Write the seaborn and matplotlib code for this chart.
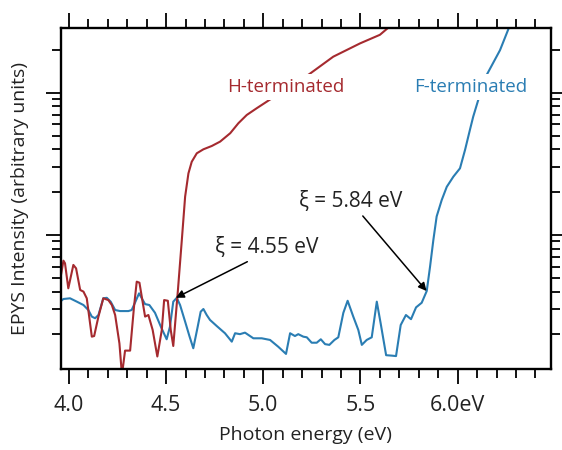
import matplotlib
matplotlib.use("Agg")
import matplotlib.pyplot as plt
import seaborn as sns
import pandas as pd
from matplotlib.ticker import MultipleLocator, LogLocator, NullFormatter, FixedLocator, FixedFormatter

# ---- data ----
h_energy = [3.955, 3.972, 3.980, 3.997, 4.023, 4.037, 4.058, 4.075, 4.092, 4.118, 4.130, 4.152,
            4.177, 4.203, 4.221, 4.238, 4.260, 4.273, 4.289, 4.315, 4.335, 4.349, 4.363, 4.375,
            4.392, 4.409, 4.431, 4.455, 4.478, 4.490, 4.509, 4.524, 4.537, 4.561, 4.581, 4.598,
            4.615, 4.632, 4.658, 4.692, 4.735, 4.778, 4.830, 4.872, 4.915, 4.966, 5.026, 5.128,
            5.237, 5.360, 5.498, 5.600, 5.643, 5.662]
h_intensity = [0.483, 0.660, 0.633, 0.422, 0.616, 0.583, 0.411, 0.400, 0.359, 0.193, 0.195, 0.267,
               0.359, 0.349, 0.322, 0.274, 0.173, 0.104, 0.154, 0.154, 0.313, 0.470, 0.462, 0.368,
               0.267, 0.274, 0.215, 0.140, 0.215, 0.349, 0.345, 0.215, 0.166, 0.411, 0.922, 1.86,
               2.71, 3.27, 3.75, 4.00, 4.22, 4.53, 5.19, 6.10, 6.97, 7.77, 8.79, 10.8,
               13.5, 17.9, 22.2, 25.5, 28.6, 32.4]

f_energy = [3.955, 3.972, 4.006, 4.041, 4.075, 4.100, 4.118, 4.135, 4.152, 4.177, 4.195, 4.215,
            4.238, 4.263, 4.306, 4.323, 4.340, 4.361, 4.375, 4.392, 4.414, 4.443, 4.473, 4.503,
            4.520, 4.537, 4.555, 4.572, 4.598, 4.620, 4.640, 4.661, 4.678, 4.692, 4.709, 4.726,
            4.761, 4.803, 4.838, 4.855, 4.880, 4.906, 4.949, 4.992, 5.035, 5.077, 5.117, 5.138,
            5.163, 5.180, 5.206, 5.224, 5.249, 5.275, 5.296, 5.318, 5.340, 5.366, 5.386, 5.412,
            5.434, 5.463, 5.489, 5.507, 5.532, 5.558, 5.584, 5.604, 5.632, 5.661, 5.683, 5.707,
            5.734, 5.760, 5.786, 5.815, 5.841, 5.858, 5.875, 5.892, 5.918, 5.944, 5.978, 6.012,
            6.038, 6.063, 6.080, 6.106, 6.149, 6.218, 6.266, 6.280]
f_intensity = [0.340, 0.355, 0.359, 0.340, 0.322, 0.297, 0.267, 0.260, 0.274, 0.359, 0.362, 0.340,
               0.297, 0.292, 0.292, 0.297, 0.334, 0.389, 0.359, 0.327, 0.322, 0.284, 0.227, 0.185,
               0.227, 0.340, 0.362, 0.322, 0.246, 0.195, 0.160, 0.221, 0.289, 0.302, 0.274, 0.253,
               0.229, 0.204, 0.178, 0.204, 0.201, 0.206, 0.188, 0.188, 0.183, 0.164, 0.146, 0.204,
               0.195, 0.201, 0.193, 0.191, 0.175, 0.175, 0.185, 0.171, 0.169, 0.183, 0.191, 0.284,
               0.345, 0.267, 0.215, 0.169, 0.183, 0.191, 0.340, 0.239, 0.143, 0.142, 0.141, 0.233,
               0.274, 0.256, 0.310, 0.334, 0.404, 0.599, 0.922, 1.35, 1.76, 2.18, 2.57, 2.94,
               3.96, 5.47, 6.78, 8.89, 13.3, 19.9, 29.1, 32.4]

x_ticks = [4.0, 4.5, 5.0, 5.5, 6.0]
x_tick_labels = ["4.0", "4.5", "5.0", "5.5", "6.0eV"]
series_names = ["H-terminated", "F-terminated"]
thresholds = [4.55, 5.84]
threshold_y = [0.362, 0.404]
threshold_labels = ["ξ = 4.55 eV", "ξ = 5.84 eV"]

RED = "#a52a2f"
BLUE = "#2a7db3"
TXT = "#222222"

sns.set_theme(style="white")
plt.rcParams["font.family"] = ["Open Sans", "DejaVu Sans"]

df_h = pd.DataFrame({"energy": h_energy, "intensity": h_intensity})
df_f = pd.DataFrame({"energy": f_energy, "intensity": f_intensity})

fig = plt.figure(figsize=(5.62, 4.5), dpi=100)
ax = fig.add_axes([0.1077, 0.1793, 0.8723, 0.7591])

sns.lineplot(data=df_f, x="energy", y="intensity", ax=ax, color=BLUE, lw=1.5,
             estimator=None, sort=False, zorder=2)
sns.lineplot(data=df_h, x="energy", y="intensity", ax=ax, color=RED, lw=1.5,
             estimator=None, sort=False, zorder=2)

ax.set_yscale("log")
ax.set_xlim(3.957, 6.479)
ax.set_ylim(0.1138, 28.6)

ax.xaxis.set_major_locator(FixedLocator(x_ticks))
ax.xaxis.set_major_formatter(FixedFormatter(x_tick_labels))
ax.xaxis.set_minor_locator(MultipleLocator(0.1))
ax.yaxis.set_major_locator(LogLocator(base=10, numticks=10))
ax.yaxis.set_minor_locator(LogLocator(base=10, subs=range(2, 10), numticks=20))
ax.yaxis.set_major_formatter(NullFormatter())
ax.yaxis.set_minor_formatter(NullFormatter())

ax.tick_params(which="both", direction="out", top=True, right=True, bottom=True, left=True,
               color="black", width=1.3, labelsize=15.5, labelcolor=TXT)
ax.tick_params(which="major", length=10.5)
ax.tick_params(which="minor", length=6.5)
ax.tick_params(axis="x", which="both", labeltop=False, pad=8)

for s in ax.spines.values():
    s.set_color("black")
    s.set_linewidth(1.7)

ax.set_xlabel("Photon energy (eV)", fontsize=14, color=TXT, labelpad=7)
ax.set_ylabel("EPYS Intensity (arbitrary units)", fontsize=14, color=TXT, labelpad=9)

# series labels (white box breaks the curves as in the reference)
ax.text(5.114, 10.9, series_names[0], color=RED, fontsize=13.5, ha="center", va="center",
        bbox=dict(facecolor="white", edgecolor="none", pad=3), zorder=3)
ax.text(6.068, 10.9, series_names[1], color=BLUE, fontsize=13.5, ha="center", va="center",
        bbox=dict(facecolor="white", edgecolor="none", pad=3), zorder=3)

# threshold annotations
ax.text(4.752, 0.811, threshold_labels[0], fontsize=15, color=TXT, ha="left", va="center")
ax.text(5.184, 1.71, threshold_labels[1], fontsize=15, color=TXT, ha="left", va="center")
arrow = dict(arrowstyle="-|>", color="black", lw=1.1, mutation_scale=12, shrinkA=0, shrinkB=0)
ax.annotate("", xy=(thresholds[0], threshold_y[0]), xytext=(4.918, 0.649), arrowprops=arrow)
ax.annotate("", xy=(thresholds[1], threshold_y[1]), xytext=(5.512, 1.36), arrowprops=arrow)

fig.savefig("out.png", dpi=100)
